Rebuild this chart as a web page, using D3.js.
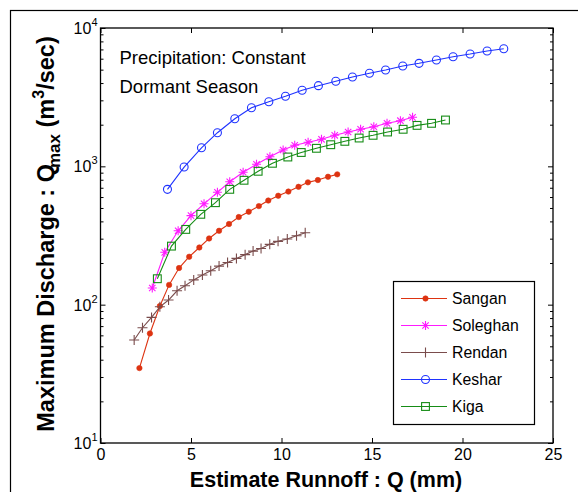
<!DOCTYPE html>
<html>
<head>
<meta charset="utf-8">
<script src="https://cdn.jsdelivr.net/npm/d3@7"></script>
<style>
  html, body { margin: 0; padding: 0; background: #fff; }
  svg { display: block; font-family: "Liberation Sans", Arial, sans-serif; }
</style>
</head>
<body>
<svg id="chart" width="578" height="492"></svg>
<script>
// ---------------- DATA ----------------
const seriesNames = ["Sangan", "Soleghan", "Rendan", "Keshar", "Kiga"];

const sanganQ = [2.15,2.73,3.28,3.79,4.34,4.90,5.46,6.00,6.55,7.10,7.64,8.19,8.75,9.27,9.82,10.38,10.94,11.46,12.01,12.57,13.08];
const sanganQmax = [34.8,61.9,97.7,139,184,222,259,301,342,383,430,470,516,566,613,657,711,766,796,841,875];

const soleghanQ = [2.86,3.55,4.29,5.00,5.72,6.46,7.14,7.88,8.62,9.36,10.09,10.73,11.47,12.21,12.94,13.68,14.37,15.10,15.83,16.57,17.24];
const soleghanQmax = [132,239,342,440,536,649,774,906,1034,1172,1312,1420,1492,1568,1676,1771,1853,1932,2046,2137,2261];

const rendanQ = [1.86,2.32,2.82,3.28,3.76,4.23,4.67,5.15,5.63,6.09,6.55,7.02,7.51,7.99,8.43,8.87,9.35,9.81,10.32,10.83,11.31];
const rendanQmax = [55.5,68.1,80.9,96.5,108,126,137,151,164,176,190,202,216,230,244,255,273,287,298,315,331];

const kesharQ = [3.70,4.62,5.58,6.46,7.42,8.34,9.30,10.22,11.14,12.04,13.0,13.92,14.86,15.75,16.70,17.60,18.56,19.48,20.42,21.36,22.28];
const kesharQmax = [682,988,1362,1750,2207,2653,2933,3207,3545,3829,4119,4424,4704,4966,5308,5554,5872,6200,6480,6817,7086];

const kigaQ = [3.14,3.92,4.71,5.54,6.35,7.14,7.93,8.71,9.50,10.35,11.09,11.93,12.72,13.50,14.29,15.06,15.86,16.72,17.49,18.29,19.06];
const kigaQmax = [154,265,350,450,546,682,793,921,1052,1168,1259,1350,1433,1516,1602,1676,1771,1853,1977,2046,2162];

const xTicks = [0, 5, 10, 15, 20, 25];
const yMajorTicks = [10, 100, 1000, 10000];
const yTickExponents = ["1", "2", "3", "4"];

const annotationLines = ["Precipitation: Constant", "Dormant Season"];
const xTitle = "Estimate Runnoff : Q (mm)";

// ---------------- SETUP ----------------
const svg = d3.select("#chart");
const L = 100.5, R = 553, T = 28, B = 443;

const x = d3.scaleLinear().domain([0, 25]).range([L, R]);
const y = d3.scaleLog().domain([10, 10000]).range([B, T]);

const yMinor = [];
for (let d = 10; d < 10000; d *= 10) for (let k = 2; k <= 9; k++) yMinor.push(d * k);

// outer frame
svg.append("rect").attr("x", 10.5).attr("y", 10.5).attr("width", 700).attr("height", 700)
  .attr("fill", "none").attr("stroke", "#000").attr("stroke-width", 1.2);

// axes (ticks inward)
const axisStyle = g => {
  g.select(".domain").remove();
  g.selectAll(".tick line").attr("stroke", "#000").attr("stroke-width", 1);
};
svg.append("g").attr("transform", `translate(0,${B})`)
  .call(d3.axisBottom(x).tickValues(xTicks).tickSize(-5).tickPadding(6).tickFormat(d3.format("d")))
  .call(axisStyle)
  .call(g => g.selectAll("text").attr("font-size", 16).attr("fill", "#000")
        .attr("font-family", "Liberation Sans, Arial, sans-serif"));
svg.append("g").attr("transform", `translate(0,${T})`)
  .call(d3.axisTop(x).tickValues(xTicks).tickSize(-5).tickFormat(""))
  .call(axisStyle);

svg.append("g").attr("transform", `translate(${L},0)`)
  .call(d3.axisLeft(y).tickValues(yMajorTicks).tickSize(-5).tickFormat(""))
  .call(axisStyle);
svg.append("g").attr("transform", `translate(${L},0)`)
  .call(d3.axisLeft(y).tickValues(yMinor).tickSize(-3).tickFormat(""))
  .call(axisStyle);
svg.append("g").attr("transform", `translate(${R},0)`)
  .call(d3.axisRight(y).tickValues(yMajorTicks).tickSize(-5).tickFormat(""))
  .call(axisStyle);
svg.append("g").attr("transform", `translate(${R},0)`)
  .call(d3.axisRight(y).tickValues(yMinor).tickSize(-3).tickFormat(""))
  .call(axisStyle);

// y tick labels 10^n
yMajorTicks.forEach((v, i) => {
  const t = svg.append("text").attr("x", L - 3).attr("y", y(v) + 6)
    .attr("text-anchor", "end").attr("font-size", 16).attr("fill", "#000");
  t.append("tspan").text("10");
  t.append("tspan").attr("dy", -8).attr("font-size", 11).text(yTickExponents[i]);
});

// plot box
svg.append("rect").attr("x", L).attr("y", T).attr("width", R - L).attr("height", B - T)
  .attr("fill", "none").attr("stroke", "#000").attr("stroke-width", 1.3);

// ---------------- SERIES ----------------
const series = [
  { name: seriesNames[0], xs: sanganQ, ys: sanganQmax, color: "#dd3311", marker: "dot" },
  { name: seriesNames[1], xs: soleghanQ, ys: soleghanQmax, color: "#ff1aff", marker: "star" },
  { name: seriesNames[2], xs: rendanQ, ys: rendanQmax, color: "#7a4c4c", marker: "plus" },
  { name: seriesNames[3], xs: kesharQ, ys: kesharQmax, color: "#1f33ff", marker: "circle" },
  { name: seriesNames[4], xs: kigaQ, ys: kigaQmax, color: "#168c16", marker: "square" }
];

function drawMarker(g, type, color) {
  if (type === "dot") {
    g.append("circle").attr("r", 2.7).attr("fill", color).attr("stroke", color).attr("stroke-width", 0.6);
  } else if (type === "circle") {
    g.append("circle").attr("r", 4).attr("fill", "none").attr("stroke", color).attr("stroke-width", 1.1);
  } else if (type === "square") {
    g.append("rect").attr("x", -3.9).attr("y", -3.9).attr("width", 7.8).attr("height", 7.8)
      .attr("fill", "none").attr("stroke", color).attr("stroke-width", 1.1);
  } else if (type === "plus") {
    g.append("path").attr("d", "M-5,0H5M0,-5V5").attr("stroke", color).attr("stroke-width", 1.1);
  } else if (type === "star") {
    g.append("path").attr("d", "M-4.5,0H4.5M0,-4.5V4.5M-3.2,-3.2L3.2,3.2M-3.2,3.2L3.2,-3.2")
      .attr("stroke", color).attr("stroke-width", 1.1);
  }
}

const line = d3.line().x(d => x(d[0])).y(d => y(d[1]));

series.forEach(s => {
  const pts = s.xs.map((v, i) => [v, s.ys[i]]);
  const g = svg.append("g");
  g.append("path").attr("d", line(pts)).attr("fill", "none")
    .attr("stroke", s.color).attr("stroke-width", 1.1);
  pts.forEach(p => {
    const mg = g.append("g").attr("transform", `translate(${x(p[0])},${y(p[1])})`);
    drawMarker(mg, s.marker, s.color);
  });
});

// ---------------- ANNOTATION ----------------
annotationLines.forEach((t, i) => {
  svg.append("text").attr("x", 119.5).attr("y", 64 + i * 28.5)
    .attr("font-size", 18.5).attr("fill", "#000").text(t);
});

// ---------------- LEGEND ----------------
const lg = svg.append("g");
lg.append("rect").attr("x", 393.5).attr("y", 281.5).attr("width", 141).attr("height", 143)
  .attr("fill", "#fff").attr("stroke", "#000").attr("stroke-width", 1.2);
series.forEach((s, i) => {
  const cy = 298.5 + i * 27;
  lg.append("line").attr("x1", 401).attr("x2", 447).attr("y1", cy).attr("y2", cy)
    .attr("stroke", s.color).attr("stroke-width", 1.1);
  const mg = lg.append("g").attr("transform", `translate(425.5,${cy})`);
  drawMarker(mg, s.marker, s.color);
  lg.append("text").attr("x", 452).attr("y", cy + 5.5).attr("font-size", 15.8)
    .attr("fill", "#000").text(s.name);
});

// ---------------- AXIS TITLES ----------------
svg.append("text").attr("x", 326).attr("y", 487).attr("text-anchor", "middle")
  .attr("font-size", 21.5).attr("font-weight", "bold").attr("fill", "#000").text(xTitle);

const yt = svg.append("text").attr("transform", "translate(54,234) rotate(-90)")
  .attr("text-anchor", "middle").attr("font-size", 23.5).attr("font-weight", "bold").attr("fill", "#000");
yt.append("tspan").text("Maximum Discharge : Q");
yt.append("tspan").attr("dy", 6).attr("dx", -4).attr("font-size", 17).text("max");
yt.append("tspan").attr("dy", -6).text(" (m");
yt.append("tspan").attr("dy", -10).attr("font-size", 16).text("3");
yt.append("tspan").attr("dy", 10).text("/sec)");
</script>
</body>
</html>
